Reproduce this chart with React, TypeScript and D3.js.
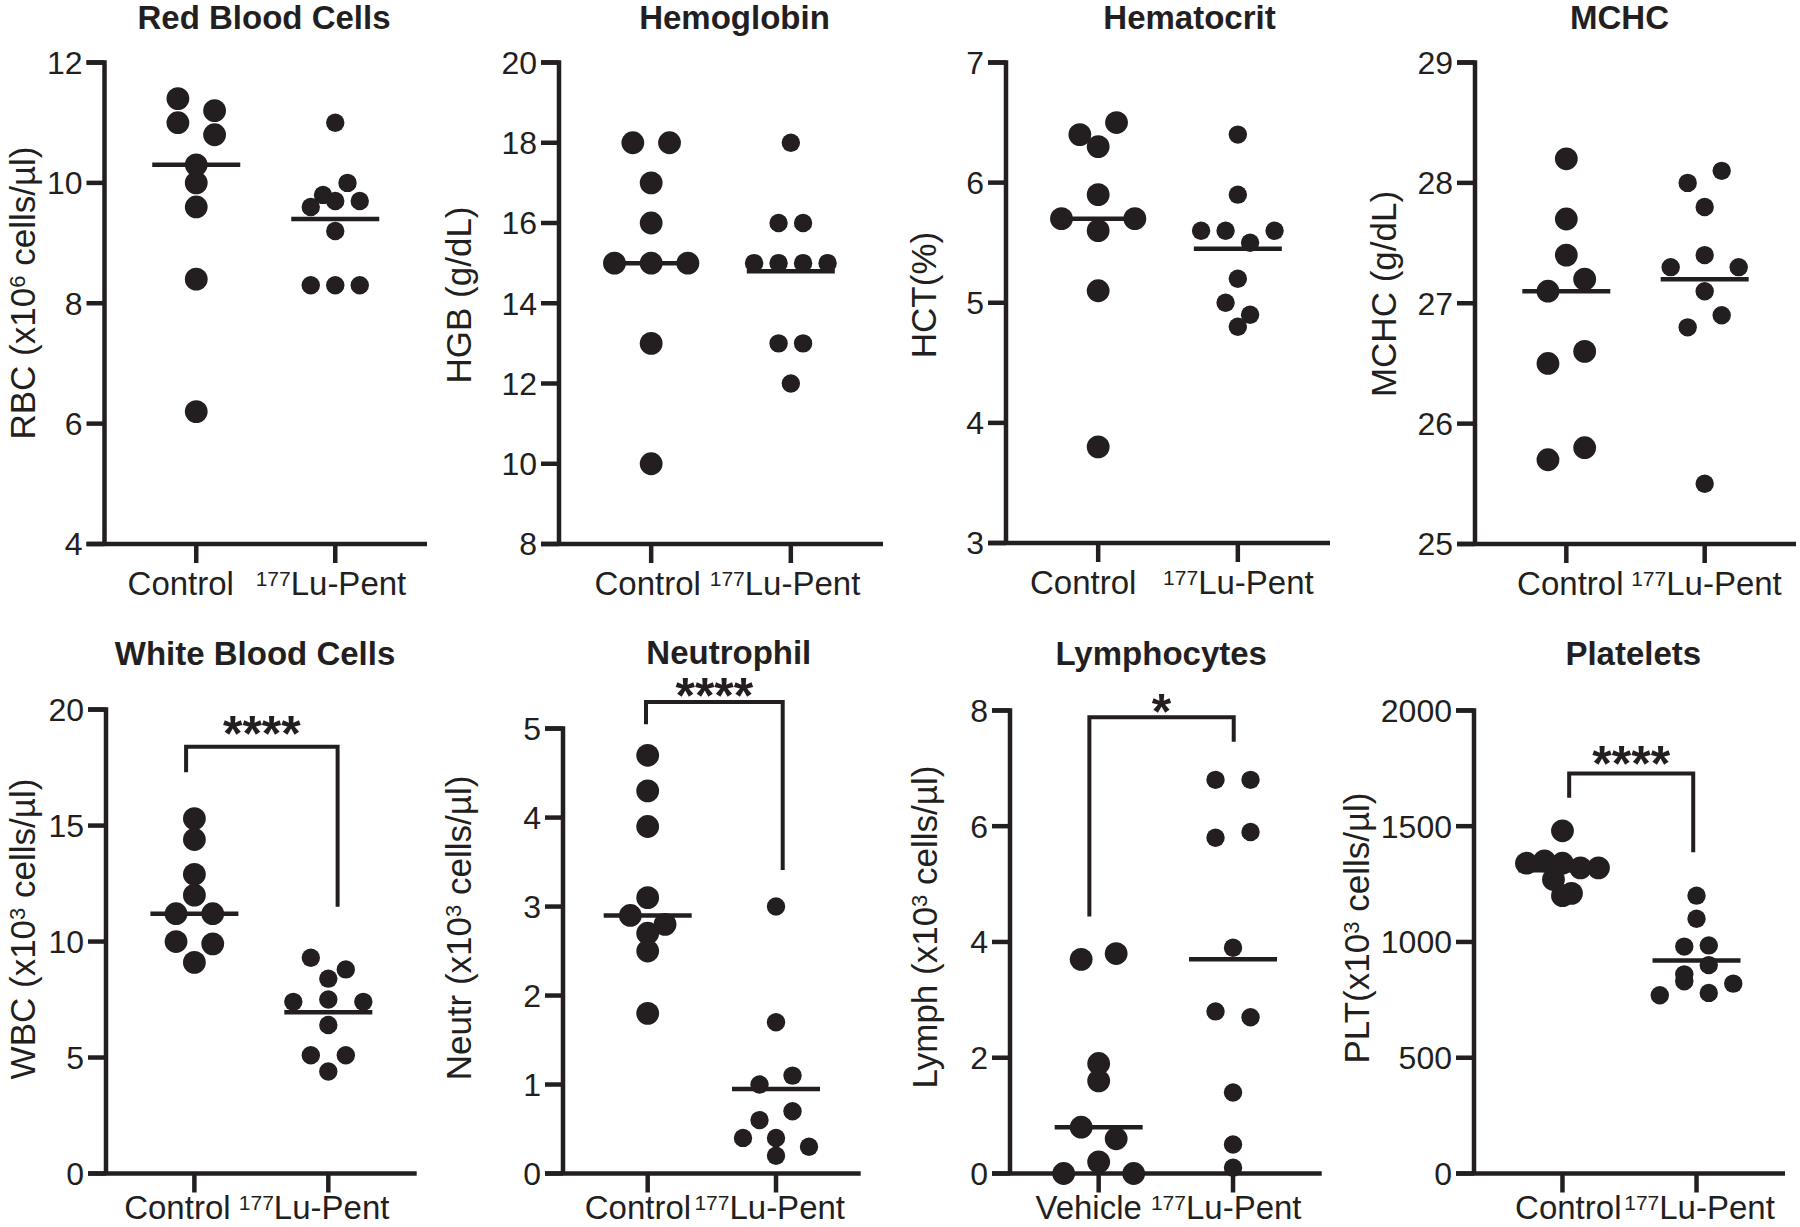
import React from "react";
import * as d3 from "d3";

const INK = "#231f20";
const FONT = "'Liberation Sans', Arial, Helvetica, sans-serif";

// ---------------- data ----------------
const panelTitles = ["Red Blood Cells", "Hemoglobin", "Hematocrit", "MCHC", "White Blood Cells", "Neutrophil", "Lymphocytes", "Platelets"];
const yTitles = ["RBC (x10^6 cells/µl)", "HGB (g/dL)", "HCT(%)", "MCHC (g/dL)", "WBC (x10^3 cells/µl)", "Neutr (x10^3 cells/µl)", "Lymph (x10^3 cells/µl)", "PLT(x10^3 cells/µl)"];
const groupsControl = ["Control", "177Lu-Pent"];
const groupsVehicle = ["Vehicle", "177Lu-Pent"];
const yDomains = [[4, 12], [8, 20], [3, 7], [25, 29], [0, 20], [0, 5], [0, 8], [0, 2000]];
const yTickSteps = [2, 2, 1, 1, 5, 1, 2, 500];

const rbcControl = [11.4, 11.2, 11.0, 10.8, 10.3, 10.0, 9.6, 8.4, 6.2];
const rbcLu = [11.0, 9.8, 10.0, 9.6, 9.7, 9.7, 9.2, 8.3, 8.3, 8.3];
const rbcLines = [10.3, 9.4];

const hgbControl = [18, 18, 17, 16, 15, 15, 15, 13, 10];
const hgbLu = [18, 16, 16, 15, 15, 15, 15, 13, 13, 12];
const hgbLines = [15, 14.8];

const hctControl = [6.4, 6.5, 6.3, 5.9, 5.7, 5.6, 5.7, 5.1, 3.8];
const hctLu = [6.4, 5.9, 5.6, 5.6, 5.5, 5.6, 5.2, 5.0, 4.9, 4.8];
const hctLines = [5.7, 5.45];

const mchcControl = [28.2, 27.7, 27.4, 27.1, 27.2, 26.5, 26.6, 25.7, 25.8];
const mchcLu = [28.0, 28.1, 27.8, 27.3, 27.4, 27.3, 27.1, 26.8, 26.9, 25.5];
const mchcLines = [27.1, 27.2];

const wbcControl = [15.3, 14.4, 12.9, 12.0, 11.2, 11.2, 10.0, 9.9, 9.1];
const wbcLu = [9.3, 8.8, 8.4, 7.4, 7.5, 7.4, 6.4, 5.1, 5.1, 4.4];
const wbcLines = [11.2, 6.95];
const wbcBracket = [18.4, 17.3, 11.5];

const neutControl = [4.7, 4.3, 3.9, 3.1, 2.9, 2.8, 2.7, 2.5, 1.8];
const neutLu = [3.0, 1.7, 1.0, 1.1, 0.6, 0.7, 0.4, 0.4, 0.3, 0.2];
const neutLines = [2.9, 0.95];
const neutBracket = [5.3, 5.05, 3.41];

const lymVehicle = [3.7, 3.8, 1.9, 1.6, 0.8, 0.6, 0, 0.2, 0];
const lymLu = [6.8, 6.8, 5.8, 5.9, 3.9, 2.8, 2.7, 1.4, 0.5, 0.1];
const lymLines = [0.8, 3.7];
const lymBracket = [7.88, 4.44, 7.46];

const pltControl = [1480, 1340, 1350, 1340, 1320, 1320, 1270, 1200, 1210];
const pltLu = [1200, 1100, 980, 985, 860, 900, 770, 830, 780, 820];
const pltLines = [1310, 920];
const pltBracket = [1728, 1623, 1387];

const sigLabels = ["", "", "", "", "****", "****", "*", "****"];

const panelData = [
  { groups: groupsControl, series: [rbcControl, rbcLu], lines: rbcLines, bracket: null },
  { groups: groupsControl, series: [hgbControl, hgbLu], lines: hgbLines, bracket: null },
  { groups: groupsControl, series: [hctControl, hctLu], lines: hctLines, bracket: null },
  { groups: groupsControl, series: [mchcControl, mchcLu], lines: mchcLines, bracket: null },
  { groups: groupsControl, series: [wbcControl, wbcLu], lines: wbcLines, bracket: wbcBracket },
  { groups: groupsControl, series: [neutControl, neutLu], lines: neutLines, bracket: neutBracket },
  { groups: groupsVehicle, series: [lymVehicle, lymLu], lines: lymLines, bracket: lymBracket },
  { groups: groupsControl, series: [pltControl, pltLu], lines: pltLines, bracket: pltBracket },
];

// ---------------- layout (positions / sizes) ----------------
const layout = [
  { axisX: 104.5, xEnd: 427, yTop: 62.5, yBot: 544, titleX: 264, titleY: 29, ytX: 35, ytY: 293, labelDx: [-15.5, -4.3], spacing: [36.7, 24.5], bracketDx: [0, 0], starGap: 20 },
  { axisX: 559, xEnd: 883, yTop: 62.5, yBot: 544, titleX: 734.5, titleY: 29, ytX: 471, ytY: 295, labelDx: [-3.5, -5.8], spacing: [36.7, 24.5], bracketDx: [0, 0], starGap: 20 },
  { axisX: 1006, xEnd: 1330, yTop: 62.5, yBot: 543, titleX: 1189.5, titleY: 29, ytX: 936, ytY: 295, labelDx: [-15, 0.6], spacing: [36.7, 24.5], bracketDx: [0, 0], starGap: 20 },
  { axisX: 1475, xEnd: 1796, yTop: 62.5, yBot: 544, titleX: 1619.5, titleY: 29, ytX: 1396, ytY: 294, labelDx: [4, 1.8], spacing: [36.7, 34], bracketDx: [0, 0], starGap: 20 },
  { axisX: 106, xEnd: 416.7, yTop: 709.6, yBot: 1173.5, titleX: 255, titleY: 664.5, ytX: 35, ytY: 929, labelDx: [-17, -14.2], spacing: [36.7, 35], bracketDx: [-8.3, 9.3], starGap: 24.2 },
  { axisX: 563, xEnd: 860.7, yTop: 728.6, yBot: 1173.5, titleX: 728.8, titleY: 663.7, ytX: 471, ytY: 928, labelDx: [-9.7, -6.3], spacing: [34.7, 33], bracketDx: [-1.7, 6.7], starGap: 17 },
  { axisX: 1010, xEnd: 1321.7, yTop: 710.4, yBot: 1173.5, titleX: 1161.2, titleY: 664.5, ytX: 937, ytY: 927, labelDx: [-10, -6.8], spacing: [35, 35], bracketDx: [-9.3, 0.7], starGap: 16.8 },
  { axisX: 1474, xEnd: 1785, yTop: 710.4, yBot: 1173.5, titleX: 1633.3, titleY: 664.5, ytX: 1369, ytY: 928, labelDx: [5.8, 3], spacing: [18, 24.5], bracketDx: [6.7, -3.3], starGap: 20.2 },
];

const DOT_R = [11.4, 9.2];
const ROW_TOL = 14;
const LINE_HALF = 44;
const AXIS_W = 4.5;
const TICK_LEN = 18;
const LABEL_MAX_Y = 1219;

// Prism-like scatter spreading: group points into rows of nearly equal y, center each row.
function swarm(values: number[], y: (v: number) => number, cx: number, spacing: number) {
  const idx = values.map((_, i) => i).sort((a, b) => values[b] - values[a] || a - b);
  const rows: number[][] = [];
  let cur: number[] = [];
  let startY = -Infinity;
  for (const i of idx) {
    const yy = y(values[i]);
    if (cur.length && yy - startY < ROW_TOL) cur.push(i);
    else {
      if (cur.length) rows.push(cur);
      cur = [i];
      startY = yy;
    }
  }
  if (cur.length) rows.push(cur);
  const out = values.map((v) => ({ v, x: cx, y: y(v) }));
  rows.forEach((r) => {
    r.sort((a, b) => a - b);
    r.forEach((i, k) => {
      out[i].x = cx + (k - (r.length - 1) / 2) * spacing;
    });
  });
  return out;
}

function SupText({ text, size, supSize, supShift }: { text: string; size: number; supSize: number; supShift: number }) {
  const parts: { s: string; sup: boolean }[] = [];
  let buf = "";
  for (let i = 0; i < text.length; i++) {
    if (text[i] === "^" && i + 1 < text.length) {
      if (buf) parts.push({ s: buf, sup: false });
      buf = "";
      parts.push({ s: text[i + 1], sup: true });
      i++;
    } else buf += text[i];
  }
  if (buf) parts.push({ s: buf, sup: false });
  let shifted = false;
  return (
    <>
      {parts.map((p, k) => {
        let dy = 0;
        if (p.sup && !shifted) { dy = -supShift; shifted = true; }
        else if (!p.sup && shifted) { dy = supShift; shifted = false; }
        return (
          <tspan key={k} fontSize={p.sup ? supSize : size} dy={dy}>{p.s}</tspan>
        );
      })}
    </>
  );
}

function CategoryLabel({ name, x, y }: { name: string; x: number; y: number }) {
  const m = name.match(/^(\d+)(.*)$/);
  return (
    <text x={x} y={y} textAnchor="middle" fontSize={33} fill={INK}>
      {m ? (
        <>
          <tspan fontSize={21} dy={-9.5}>{m[1]}</tspan>
          <tspan fontSize={33} dy={9.5}>{m[2]}</tspan>
        </>
      ) : name}
    </text>
  );
}

function Panel({ i }: { i: number }) {
  const d = panelData[i];
  const L = layout[i];
  const dom = yDomains[i];
  const step = yTickSteps[i];
  const y = d3.scaleLinear().domain(dom).range([L.yBot, L.yTop]);
  const x = d3.scalePoint<string>().domain(d.groups).range([L.axisX, L.xEnd]).padding(0.66);
  const ticks = d3.range(dom[0], dom[1] + step / 2, step);
  const fmt = d3.format("d");

  const dots = d.series.map((vals, g) => swarm(vals, y, x(d.groups[g]) as number, L.spacing[g]));

  let bracket: React.ReactNode = null;
  if (d.bracket) {
    const [top, leftEnd, rightEnd] = d.bracket;
    const x0 = (x(d.groups[0]) as number) + L.bracketDx[0];
    const x1 = (x(d.groups[1]) as number) + L.bracketDx[1];
    const path = d3.path();
    path.moveTo(x0, y(leftEnd));
    path.lineTo(x0, y(top));
    path.lineTo(x1, y(top));
    path.lineTo(x1, y(rightEnd));
    bracket = (
      <g>
        <path d={path.toString()} fill="none" stroke={INK} strokeWidth={4} strokeLinejoin="miter" />
        <text x={(x0 + x1) / 2} y={y(top) - L.starGap + 28} textAnchor="middle" fontSize={50} fontWeight="bold" fill={INK}>
          {sigLabels[i]}
        </text>
      </g>
    );
  }

  const labelY = Math.min(L.yBot + 51, LABEL_MAX_Y);

  return (
    <g>
      <text x={L.titleX} y={L.titleY} textAnchor="middle" fontSize={33} fontWeight="bold" fill={INK}>
        {panelTitles[i]}
      </text>
      <text transform={`translate(${L.ytX},${L.ytY}) rotate(-90)`} textAnchor="middle" fontSize={35} fill={INK}>
        <SupText text={yTitles[i]} size={35} supSize={22} supShift={10} />
      </text>
      {/* axes */}
      <path d={`M${L.axisX - TICK_LEN},${L.yTop}H${L.axisX}V${L.yBot}`} fill="none" stroke={INK} strokeWidth={AXIS_W} />
      <path d={`M${L.axisX - TICK_LEN},${L.yBot}H${L.xEnd}`} fill="none" stroke={INK} strokeWidth={AXIS_W} />
      {ticks.map((t) => (
        <g key={t}>
          <line x1={L.axisX - TICK_LEN} x2={L.axisX} y1={y(t)} y2={y(t)} stroke={INK} strokeWidth={AXIS_W} />
          <text x={L.axisX - TICK_LEN - 4} y={y(t)} dy="0.355em" textAnchor="end" fontSize={32} fill={INK}>
            {fmt(t)}
          </text>
        </g>
      ))}
      {d.groups.map((g, k) => (
        <g key={g}>
          <line x1={x(g)} x2={x(g)} y1={L.yBot} y2={L.yBot + 19} stroke={INK} strokeWidth={AXIS_W} />
          <CategoryLabel name={g} x={(x(g) as number) + L.labelDx[k]} y={labelY} />
        </g>
      ))}
      {/* dots */}
      {dots.map((pts, g) =>
        pts.map((p, k) => <circle key={`${g}-${k}`} cx={p.x} cy={p.y} r={DOT_R[g]} fill={INK} />)
      )}
      {/* center lines */}
      {d.lines.map((v, g) => (
        <line key={g} x1={(x(d.groups[g]) as number) - LINE_HALF} x2={(x(d.groups[g]) as number) + LINE_HALF} y1={y(v)} y2={y(v)} stroke={INK} strokeWidth={4.5} />
      ))}
      {bracket}
    </g>
  );
}

export default function App() {
  React.useEffect(() => {
    document.body.style.margin = "0";
  }, []);
  return (
    <svg
      width={1800}
      height={1227}
      viewBox="0 0 1800 1227"
      style={{ display: "block", position: "absolute", left: 0, top: 0, background: "#fff" }}
      fontFamily={FONT}
    >
      <rect width={1800} height={1227} fill="#fff" />
      {panelData.map((_, i) => (
        <Panel key={i} i={i} />
      ))}
    </svg>
  );
}
